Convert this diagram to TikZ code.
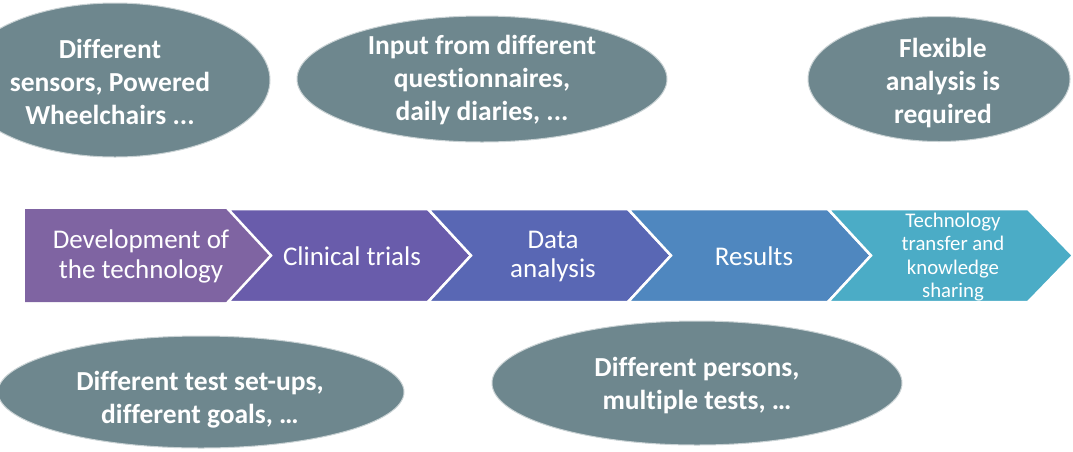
\documentclass[tikz,border=0pt]{standalone}
\usepackage{fontspec}
\setmainfont{Carlito}[Ligatures={NoCommon}]
\usetikzlibrary{shapes.geometric}
\definecolor{ellfill}{HTML}{6E878E}
\definecolor{ellline}{HTML}{C9D2D4}
\definecolor{cA}{HTML}{7F64A2}
\definecolor{cB}{HTML}{695CAB}
\definecolor{cC}{HTML}{5967B4}
\definecolor{cD}{HTML}{4F87BF}
\definecolor{cE}{HTML}{4BACC6}
\tikzset{
  bubble/.style={ellipse, fill=ellfill, draw=ellline, line width=1pt, inner sep=0pt},
  bubbletext/.style={text=white, font=\fontsize{27.5}{33}\selectfont\bfseries, align=center, inner sep=0pt},
  steplabel/.style={text=white, font=\fontsize{27}{29.5}\selectfont, align=center, inner sep=0pt},
  smalllabel/.style={text=white, font=\fontsize{20.8}{23.3}\selectfont, align=center, inner sep=0pt},
  chevline/.style={draw=white, line width=2.5pt, line join=miter}
}
\begin{document}
\begin{tikzpicture}[x=1pt,y=-1pt]
\useasboundingbox (0,0) rectangle (1073,451);
\clip (0,0) rectangle (1073,451);
% chevrons
\fill[cA] (25,209) -- (228,209) -- (271,255.5) -- (228,302) -- (25,302) -- cycle;
\filldraw[chevline, fill=cB] (228,209) -- (428,209) -- (471,255.5) -- (428,302) -- (228,302) -- (271,255.5) -- cycle;
\filldraw[chevline, fill=cC] (428,209) -- (628,209) -- (671,255.5) -- (628,302) -- (428,302) -- (471,255.5) -- cycle;
\filldraw[chevline, fill=cD] (628,209) -- (828,209) -- (871,255.5) -- (828,302) -- (628,302) -- (671,255.5) -- cycle;
\filldraw[chevline, fill=cE] (828,209) -- (1028,209) -- (1073,255.5) -- (1028,302) -- (828,302) -- (871,255.5) -- cycle;
% labels
\node[steplabel] (s1) at (141,256.5) {Development of\\the technology};
\node[steplabel] (s2) at (352,256.5) {Clinical trials};
\node[steplabel] (s3) at (553,256.5) {Data\\analysis};
\node[steplabel] (s4) at (754,256.5) {Results};
\node[smalllabel] (s5) at (953,257) {Technology\\transfer and\\knowledge\\sharing};
% bubbles
\node[bubble, minimum width=310pt, minimum height=154pt] (b1) at (115,80) {};
\node[bubbletext] (t1) at (110,82) {Different\\sensors, Powered\\Wheelchairs ...};
\node[bubble, minimum width=370pt, minimum height=126pt] (b2) at (482,79) {};
\node[bubbletext] (t2) at (482,80.5) {Input from different\\questionnaires,\\daily diaries, ...};
\node[bubble, minimum width=262pt, minimum height=125pt] (b3) at (939,79) {};
\node[bubbletext] (t3) at (943,83) {Flexible\\analysis is\\required};
\node[bubble, minimum width=406pt, minimum height=112pt] (b4) at (201,392) {};
\node[bubbletext] (t4) at (200,399.5) {Different test set-ups,\\different goals, …};
\node[bubble, minimum width=410pt, minimum height=124pt] (b5) at (697,383) {};
\node[bubbletext] (t5) at (697,386) {Different persons,\\multiple tests, …};
\end{tikzpicture}
\end{document}
